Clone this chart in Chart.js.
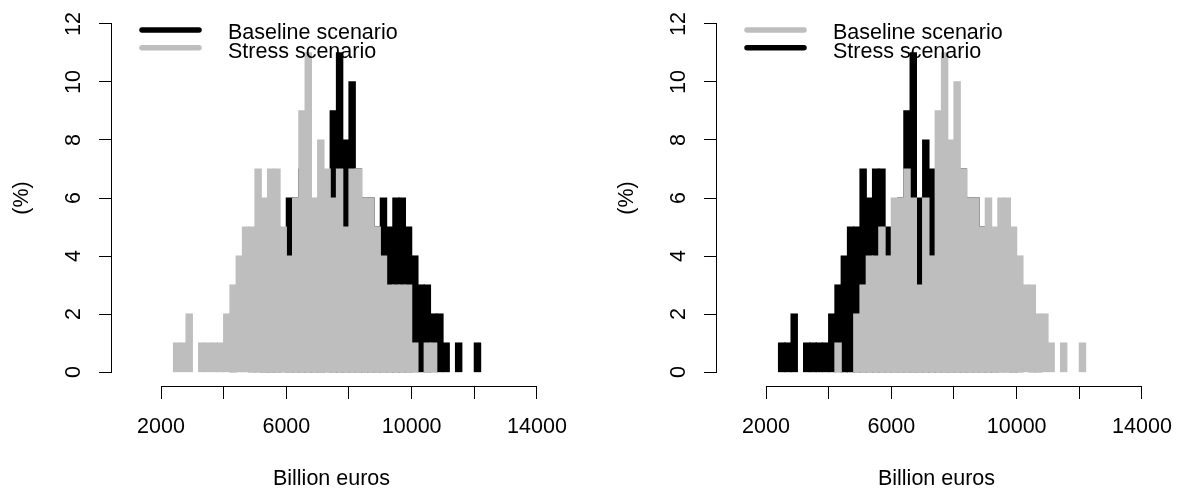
<!DOCTYPE html>
<html>
<head>
<meta charset="utf-8">
<title>Baseline vs stress scenario</title>
<script src="https://cdn.jsdelivr.net/npm/chart.js@4.4.0/dist/chart.umd.min.js"></script>
<style>
  html, body { margin: 0; padding: 0; background: #fff; }
  #wrap { position: relative; width: 1183px; height: 493px; overflow: hidden; }
  .panel { position: absolute; top: 0; width: 578px; height: 493px; }
</style>
</head>
<body>
<div id="wrap">
  <div class="panel" style="left:0"><canvas id="leftChart" width="578" height="493"></canvas></div>
  <div class="panel" style="left:605px"><canvas id="rightChart" width="578" height="493"></canvas></div>
</div>
<script>
// bin centres (billion euros)
const bins = [2500, 2700, 2900, 3100, 3300, 3500, 3700, 3900, 4100, 4300,
              4500, 4700, 4900, 5100, 5300, 5500, 5700, 5900, 6100, 6300,
              6500, 6700, 6900, 7100, 7300, 7500, 7700, 7900, 8100, 8300,
              8500, 8700, 8900, 9100, 9300, 9500, 9700, 9900, 10100, 10300,
              10500, 10700, 10900, 11100, 11300, 11500, 11700, 11900, 12100];

// frequencies (%)
const baseline = [0, 0, 0, 0, 0, 0, 0, 0, 0, 1,
                  0, 0, 2, 3, 4, 4, 5, 4, 6, 6,
                  7, 6, 3, 6, 4, 9, 11, 8, 10, 7,
                  6, 6, 5, 6, 5, 6, 6, 5, 4, 3,
                  3, 2, 2, 1, 0, 1, 0, 0, 1];
const stress = [1, 1, 2, 0, 1, 1, 1, 1, 2, 3,
                4, 5, 5, 7, 6, 7, 7, 5, 4, 6,
                9, 11, 6, 8, 7, 6, 7, 5, 7, 7,
                6, 6, 5, 4, 3, 3, 3, 3, 1, 0,
                1, 1, 0, 0, 0, 0, 0, 0, 0];

const xTicks = [2000, 4000, 6000, 8000, 10000, 12000, 14000];
const xTickLabels = ['2000', '', '6000', '', '10000', '', '14000'];
const yTicks = [0, 2, 4, 6, 8, 10, 12];

const BLACK = '#000000';
const GREY = '#bebebe';
const FONT = { family: "'Liberation Sans', Arial, sans-serif", size: 21.5 };

function points(values) {
    // empty bins are left undrawn
    return bins.map((b, i) => ({ x: b, y: values[i] === 0 ? null : values[i] }));
}

// R-style axes (line only between first and last tick) and legend
const rStyle = {
    id: 'rStyle',
    afterDraw(chart) {
        const { ctx, chartArea, scales: { x, y } } = chart;
        ctx.save();
        ctx.strokeStyle = BLACK;
        ctx.lineWidth = 1;
        ctx.beginPath();
        const yb = Math.round(chartArea.bottom) + 0.5;
        ctx.moveTo(x.getPixelForValue(xTicks[0]), yb);
        ctx.lineTo(x.getPixelForValue(xTicks[xTicks.length - 1]), yb);
        const xl = Math.round(chartArea.left) - 0.5;
        ctx.moveTo(xl, y.getPixelForValue(yTicks[0]));
        ctx.lineTo(xl, y.getPixelForValue(yTicks[yTicks.length - 1]));
        ctx.stroke();

        // legend, in dataset order
        ctx.font = FONT.size + 'px ' + FONT.family;
        ctx.textBaseline = 'alphabetic';
        ctx.textAlign = 'left';
        ctx.lineCap = 'round';
        chart.data.datasets.forEach((ds, i) => {
            const ly = 30 + i * 17.8;
            ctx.strokeStyle = ds.backgroundColor;
            ctx.lineWidth = 5.5;
            ctx.beginPath();
            ctx.moveTo(142, ly);
            ctx.lineTo(199, ly);
            ctx.stroke();
            ctx.fillStyle = BLACK;
            ctx.fillText(ds.label, 228, 38.7 + i * 19);
        });
        ctx.restore();
    }
};

function noPad(s) {
    s.paddingLeft = 0; s.paddingRight = 0; s.paddingTop = 0; s.paddingBottom = 0;
}

function makeChart(id, baseColor, stressColor) {
    const baseOnTop = baseColor === GREY;
    new Chart(document.getElementById(id), {
        type: 'bar',
        data: {
            datasets: [
                { label: 'Baseline scenario', data: points(baseline), backgroundColor: baseColor,
                  order: baseOnTop ? 1 : 2 },
                { label: 'Stress scenario', data: points(stress), backgroundColor: stressColor,
                  order: baseOnTop ? 2 : 1 }
            ]
        },
        options: {
            responsive: false,
            animation: false,
            devicePixelRatio: 1,
            layout: { padding: { top: 10, right: 27, bottom: 0, left: 0 } },
            datasets: { bar: { grouped: false, barPercentage: 1, categoryPercentage: 1,
                               borderWidth: 0, inflateAmount: 0.6 } },
            plugins: { legend: { display: false }, tooltip: { enabled: false } },
            scales: {
                x: {
                    type: 'linear',
                    offset: false,
                    min: 436, max: 14447,
                    bounds: 'data',
                    afterBuildTicks: s => { s.ticks = xTicks.map(v => ({ value: v })); },
                    afterFit: s => { s.height = 107; noPad(s); },
                    grid: { display: true, offset: false, drawOnChartArea: false, drawTicks: true,
                            tickLength: 13, color: BLACK, lineWidth: 1 },
                    border: { display: false },
                    ticks: { autoSkip: false, maxRotation: 0, minRotation: 0, padding: 15,
                             color: BLACK, font: FONT,
                             callback: (v, i) => xTickLabels[i] },
                    title: { display: true, text: 'Billion euros', color: BLACK, font: FONT,
                             padding: { top: 0, bottom: 1 } }
                },
                y: {
                    type: 'linear',
                    min: -0.48, max: 12.48,
                    bounds: 'data',
                    afterBuildTicks: s => { s.ticks = yTicks.map(v => ({ value: v })); },
                    afterFit: s => { s.width = 112; noPad(s); },
                    grid: { display: true, drawOnChartArea: false, drawTicks: true, tickLength: 13,
                            color: BLACK, lineWidth: 1 },
                    border: { display: false },
                    ticks: { minRotation: 90, maxRotation: 90, crossAlign: 'center', padding: 13,
                             color: BLACK, font: FONT,
                             callback: v => String(v) },
                    title: { display: true, text: '(%)', color: BLACK, font: FONT,
                             padding: { top: 9, bottom: 0 } }
                }
            }
        },
        plugins: [rStyle]
    });
}

makeChart('leftChart', BLACK, GREY);
makeChart('rightChart', GREY, BLACK);
</script>
</body>
</html>
